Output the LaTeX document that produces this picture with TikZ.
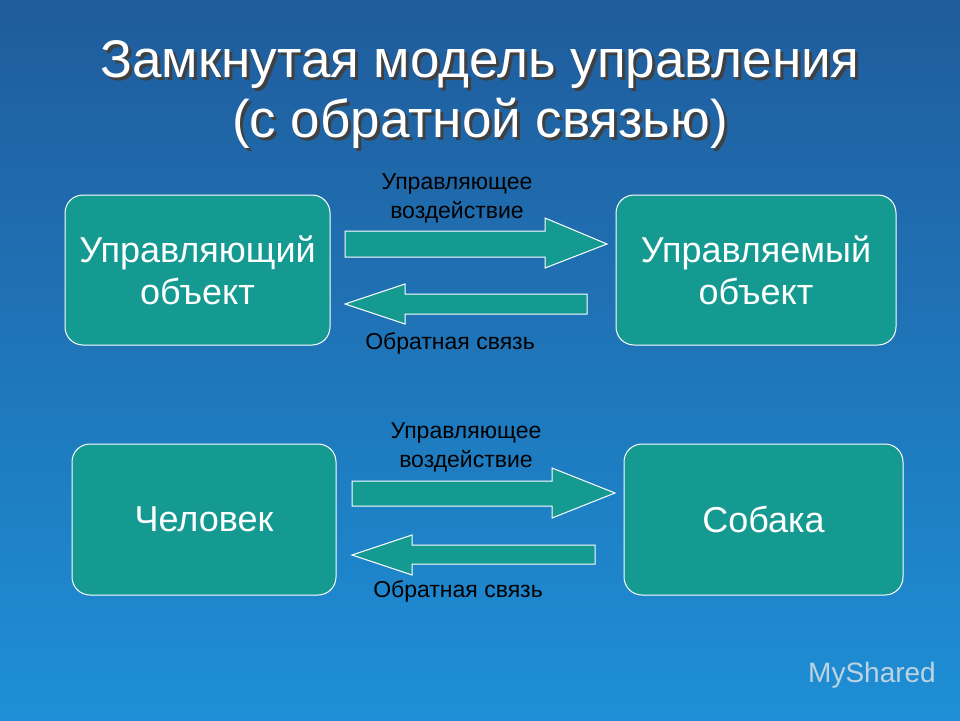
\documentclass[tikz,border=0pt]{standalone}
\usepackage{fontspec}
\setmainfont{Liberation Sans}
\begin{document}
\begin{tikzpicture}[x=1pt,y=-1pt,
  box/.style={draw=white,line width=1pt,fill=boxc,rounded corners=18pt,text=white,font=\fontsize{36}{42}\selectfont,align=center,inner sep=0pt},
  blk/.style={draw=white,line width=1pt,fill=boxc},
  lab/.style={font=\fontsize{23}{29}\selectfont,align=center,text=black},
  ttl/.style={font=\fontsize{53}{60}\selectfont,align=center}]
\definecolor{boxc}{HTML}{159A92}
\definecolor{bgtop}{HTML}{1F5C9C}
\definecolor{bgbot}{HTML}{1E8FD6}
\shade[top color=bgtop,bottom color=bgbot] (0,0) rectangle (960,720);
\useasboundingbox (0,0) rectangle (960,720);
\node[ttl,text=black!75] (tshadow) at (483,98) {Замкнутая модель управления\\(с обратной связью)};
\node[ttl,text=white] (title) at (480,95) {Замкнутая модель управления\\(с обратной связью)};
\node[box,minimum width=265pt,minimum height=150pt] (a) at (197.5,270) {Управляющий\\объект};
\node[box,minimum width=280pt,minimum height=150pt] (b) at (756,270) {Управляемый\\объект};
\node[box,minimum width=264pt,minimum height=151pt] (c) at (204,519.5) {Человек};
\node[box,minimum width=279pt,minimum height=151pt] (d) at (763.5,519.5) {Собака};
\draw[blk] (345,231) -- (545,231) -- (545,218) -- (607,244) -- (545,268) -- (545,257) -- (345,257) -- cycle;
\draw[blk] (587,294) -- (405,294) -- (405,284) -- (345,304) -- (405,324) -- (405,314) -- (587,314) -- cycle;
\draw[blk] (352,481) -- (552,481) -- (552,468) -- (615,493) -- (552,518) -- (552,506) -- (352,506) -- cycle;
\draw[blk] (595,545) -- (412,545) -- (412,535) -- (352,555) -- (412,575) -- (412,564) -- (595,564) -- cycle;
\node[lab] (l1) at (457,198) {Управляющее\\воздействие};
\node[lab] (l2) at (450,343) {Обратная связь};
\node[lab] (l3) at (466,447) {Управляющее\\воздействие};
\node[lab] (l4) at (458,591) {Обратная связь};
\node[font=\fontsize{28}{32}\selectfont,text=white!80!gray,opacity=0.8] (wm) at (872,675) {MyShared};
\end{tikzpicture}
\end{document}
